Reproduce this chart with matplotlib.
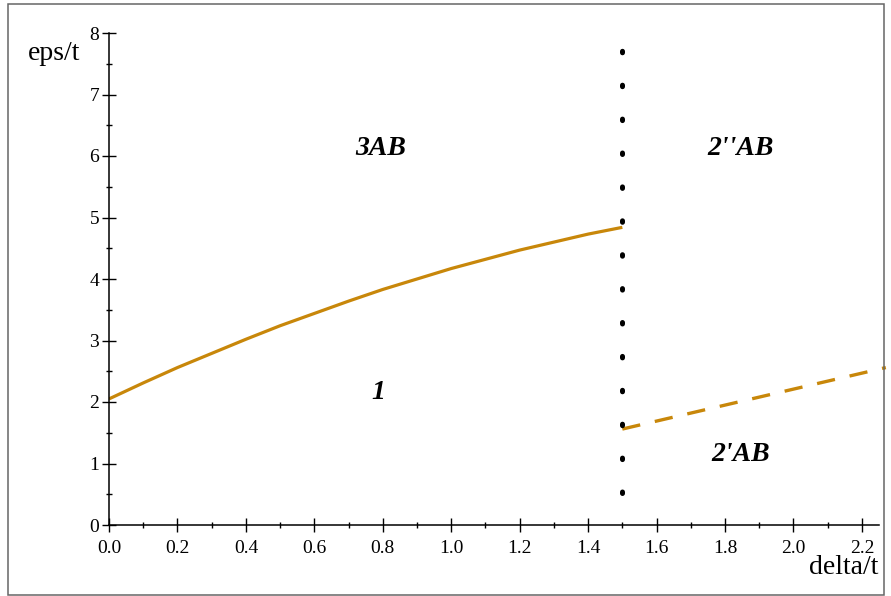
import matplotlib
matplotlib.use("Agg")
import matplotlib.pyplot as plt
from matplotlib.patches import Rectangle
from matplotlib.ticker import MultipleLocator
import numpy as np

plt.rcParams['font.family'] = ['Liberation Serif', 'DejaVu Serif']

# boundary 1 / 3AB (solid curve)
delta_solid = [0.0, 0.1, 0.2, 0.3, 0.4, 0.5, 0.6, 0.7, 0.8, 0.9, 1.0, 1.1, 1.2, 1.3, 1.4, 1.5]
eps_solid = [2.05, 2.31, 2.56, 2.79, 3.02, 3.24, 3.44, 3.64, 3.83, 4.00, 4.17, 4.32, 4.47, 4.60, 4.73, 4.84]

# boundary 2'AB / 2''AB (dashed line)
delta_dash = [1.5, 2.27]
eps_dash = [1.56, 2.56]

# vertical phase boundary (dotted)
delta_vert = [1.5, 1.5]
eps_vert = [0.52, 7.75]

# region labels
region_names = ["3AB", "2''AB", "1", "2'AB"]
region_x = [0.795, 1.846, 0.786, 1.846]
region_y = [6.13, 6.13, 2.16, 1.14]

gold = '#c8870a'

fig = plt.figure(figsize=(8.91, 5.96), dpi=100)
ax = fig.add_axes([109/891, 71/596, 770/891, 492/596])

ax.plot(delta_solid, eps_solid, color=gold, lw=2.3, solid_capstyle='butt')
ax.plot(delta_dash, eps_dash, color=gold, lw=2.4, dashes=(5.5, 4.5), clip_on=False)
ax.plot(delta_vert, eps_vert, color='black', lw=3.6,
        linestyle=(0, (0.3, 6.48)), dash_capstyle='round')

for name, x, y in zip(region_names, region_x, region_y):
    ax.text(x, y, name, ha='center', va='center', fontsize=20,
            fontweight='bold', fontstyle='italic')

ax.set_xlim(0, 2.25)
ax.set_ylim(0, 8)
for s in ['top', 'right']:
    ax.spines[s].set_visible(False)
for s in ['left', 'bottom']:
    ax.spines[s].set_linewidth(1.1)

ax.xaxis.set_major_locator(MultipleLocator(0.2))
ax.xaxis.set_minor_locator(MultipleLocator(0.1))
ax.yaxis.set_major_locator(MultipleLocator(1))
ax.yaxis.set_minor_locator(MultipleLocator(0.5))
ax.xaxis.set_major_formatter(lambda v, p: f"{v:.1f}")
ax.yaxis.set_major_formatter(lambda v, p: f"{v:.0f}")
ax.tick_params(which='major', direction='inout', length=10, width=1.0, labelsize=14)
ax.tick_params(which='minor', direction='inout', length=5, width=1.0)
ax.tick_params(axis='x', which='major', pad=6)
ax.tick_params(axis='y', which='major', pad=2)

fig.text(80/891, (596-60)/596, "eps/t", ha='right', va='baseline', fontsize=20)
fig.text(878/891, (596-574)/596, "delta/t", ha='right', va='baseline', fontsize=20)

fig.patches.append(Rectangle((8/891, 1/596), 876/891, 591/596, transform=fig.transFigure,
                             fill=False, edgecolor='#666666', lw=1.1))

fig.savefig('out.png', dpi=100)
